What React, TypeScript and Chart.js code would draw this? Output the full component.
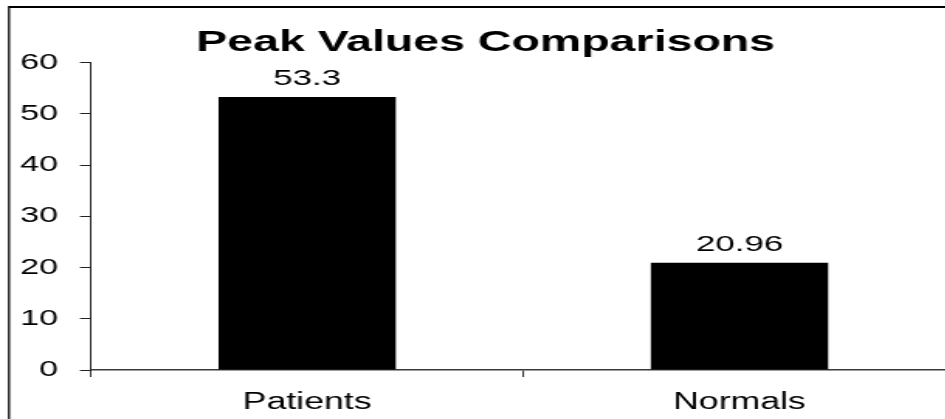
import React, { useEffect, useRef } from "react";
import { Chart, registerables } from "chart.js";

Chart.register(...registerables);

const categories = ["Patients", "Normals"];
const peakValues = [53.3, 20.96];
const yTickMin = 0;
const yTickMax = 60;
const yTickStep = 10;
const chartTitle = "Peak Values Comparisons";

const FONT = "'Liberation Sans', Arial, Helvetica, sans-serif";
const W = 629;
const H = 419;
const CSS_W = 975;

const frameAndLabels = {
  id: "frameAndLabels",
  afterDraw(chart: any) {
    const ctx = chart.ctx;
    ctx.save();
    ctx.strokeStyle = "#000";
    ctx.lineWidth = 2;
    ctx.beginPath();
    ctx.moveTo(5.8, 7);
    ctx.lineTo(W + 5, 7);
    ctx.stroke();
    ctx.lineWidth = 1.3;
    ctx.beginPath();
    ctx.moveTo(5.8, 6);
    ctx.lineTo(5.8, H + 5);
    ctx.stroke();
    ctx.restore();
  },
  afterDatasetsDraw(chart: any) {
    const ctx = chart.ctx;
    const meta = chart.getDatasetMeta(0);
    const data = chart.data.datasets[0].data;
    ctx.save();
    ctx.fillStyle = "#000";
    ctx.font = `22.5px ${FONT}`;
    ctx.textAlign = "center";
    ctx.textBaseline = "alphabetic";
    meta.data.forEach((bar: any, i: number) => {
      ctx.fillText(String(data[i]), bar.x, bar.y - 12);
    });
    ctx.restore();
  },
};

export default function App() {
  const ref = useRef<HTMLCanvasElement | null>(null);
  useEffect(() => {
    if (!ref.current) return;
    const chart = new Chart(ref.current, {
      type: "bar",
      data: {
        labels: categories,
        datasets: [
          {
            data: peakValues,
            backgroundColor: "#000",
            borderWidth: 0,
            categoryPercentage: 1,
            barPercentage: 0.41,
          },
        ],
      },
      options: {
        responsive: false,
        animation: false,
        devicePixelRatio: 1,
        layout: { padding: { left: 10, right: 12.5, top: 0, bottom: 0 } },
        plugins: {
          legend: { display: false },
          tooltip: { enabled: false },
          title: {
            display: true,
            text: chartTitle,
            color: "#000",
            font: { family: FONT, size: 30, weight: "bold", lineHeight: 1.2 },
            padding: { top: 24.5, bottom: 2.2 },
          },
        },
        scales: {
          x: {
            grid: {
              display: true,
              drawOnChartArea: false,
              drawTicks: true,
              tickLength: 7,
              color: "#333",
              offset: true,
            },
            border: { display: true, color: "#3a3a3a", width: 1.5 },
            ticks: {
              color: "#000",
              font: { family: FONT, size: 23 },
              padding: 11.8,
              maxRotation: 0,
            },
            afterFit: (scale: any) => {
              scale.height = 49;
            },
          },
          y: {
            min: yTickMin,
            max: yTickMax,
            grid: {
              display: true,
              drawOnChartArea: false,
              drawTicks: true,
              tickLength: 7.1,
              color: "#222",
            },
            border: { display: true, color: "#222", width: 1 },
            ticks: {
              stepSize: yTickStep,
              color: "#000",
              font: { family: FONT, size: 22 },
              padding: 14.2,
            },
            afterFit: (scale: any) => {
              scale.width = 48.7;
            },
          },
        },
      },
      plugins: [frameAndLabels],
    });
    return () => chart.destroy();
  }, []);

  return (
    <div
      style={{
        position: "fixed",
        left: 0,
        top: 0,
        width: 945,
        height: 419,
        overflow: "hidden",
        background: "#fff",
      }}
    >
      <canvas
        ref={ref}
        width={W}
        height={H}
        style={{ width: `${CSS_W}px`, height: `${H}px`, display: "block" }}
      />
    </div>
  );
}
